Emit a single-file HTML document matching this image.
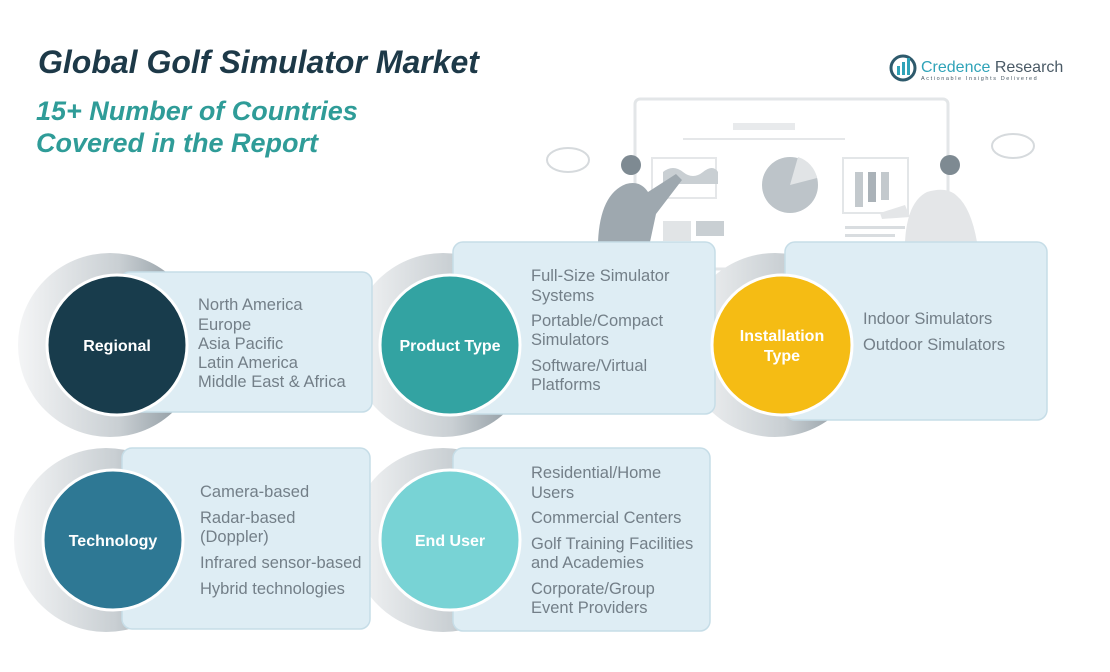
<!DOCTYPE html>
<html><head><meta charset="utf-8"><style>
body{margin:0;background:#fff;}
svg{display:block}
.t{font-family:"Liberation Sans",sans-serif;}
.it{font-family:"Liberation Sans",sans-serif;font-size:16.5px;fill:#737f88;}
.lb{font-family:"Liberation Sans",sans-serif;font-size:16px;font-weight:bold;fill:#fff;}
</style></head><body>
<svg width="1110" height="672" viewBox="0 0 1110 672" xmlns="http://www.w3.org/2000/svg">
<defs>
<linearGradient id="rg" x1="0" y1="0" x2="1" y2="0">
<stop offset="0" stop-color="#f4f5f6"/><stop offset="0.55" stop-color="#c9cfd3"/><stop offset="1" stop-color="#7d8a92"/>
</linearGradient>
</defs>
<g fill="none" stroke="#e3e6e8" stroke-width="3">
<rect x="635" y="99" width="313" height="170" rx="5"/>
</g>
<rect x="733" y="123" width="62" height="7" fill="#e8eaec"/>
<rect x="683" y="138" width="162" height="2" fill="#e5e7e9"/>
<rect x="652" y="158" width="64" height="40" fill="none" stroke="#e5e7e9" stroke-width="2"/>
<path d="M663 172 q10 -8 20 0 t20 0 t15 0 v12 h-55z" fill="#c9cfd3"/>
<circle cx="790" cy="185" r="28" fill="#bdc4c9"/>
<path d="M790 185 L798 157 A28 28 0 0 1 817 178Z" fill="#e1e4e6"/>
<rect x="843" y="158" width="65" height="55" fill="none" stroke="#e3e6e8" stroke-width="2"/>
<rect x="855" y="172" width="8" height="35" fill="#c3c9cd"/><rect x="868" y="172" width="8" height="30" fill="#aab2b8"/><rect x="881" y="172" width="8" height="28" fill="#c3c9cd"/>
<rect x="663" y="221" width="28" height="20" fill="#e1e4e6"/><rect x="696" y="221" width="28" height="15" fill="#c9cfd3"/>
<rect x="845" y="226" width="60" height="3" fill="#d9dde0"/><rect x="845" y="234" width="50" height="3" fill="#d9dde0"/>
<path d="M598 242 q2 -48 28 -58 q14 -4 22 8 l28 -18 l6 6 l-26 34 l-6 28z" fill="#9ea8af"/>
<circle cx="631" cy="165" r="10" fill="#7e8a92"/>
<path d="M905 242 q2 -40 22 -50 q20 -6 30 4 q14 12 20 46z" fill="#e4e6e8"/>
<path d="M905 205 l-25 8 l2 6 l28 -2z" fill="#e4e6e8"/>
<circle cx="950" cy="165" r="10" fill="#7e8a92"/>
<g fill="#fff" stroke="#d6dadd" stroke-width="2">
<ellipse cx="568" cy="160" rx="21" ry="12"/><ellipse cx="1013" cy="146" rx="21" ry="12"/>
</g>
<text x="38" y="73" class="t" font-size="32" font-weight="bold" font-style="italic" fill="#1d3948">Global Golf Simulator Market</text>
<text x="36" y="120" class="t" font-size="27" font-weight="bold" font-style="italic" fill="#2f9c98">15+ Number of Countries</text>
<text x="36" y="152" class="t" font-size="27" font-weight="bold" font-style="italic" fill="#2f9c98">Covered in the Report</text>
<circle cx="903" cy="68" r="12" fill="none" stroke="#2e5a6c" stroke-width="3"/>
<rect x="897" y="66" width="3" height="9" fill="#2fa3b8"/><rect x="902" y="62" width="3" height="13" fill="#2fa3b8"/><rect x="907" y="58" width="3" height="17" fill="#2fa3b8"/>
<text x="921" y="72" class="t" font-size="16" fill="#2fa3b8">Credence <tspan fill="#4a5a66">Research</tspan></text>
<text x="921" y="80" class="t" font-size="5.5" fill="#4a5a66" letter-spacing="1.6">Actionable Insights Delivered</text>

<g fill="url(#rg)">
<circle cx="110" cy="345" r="92"/><circle cx="443" cy="345" r="92"/><circle cx="775" cy="345" r="92"/>
<circle cx="106" cy="540" r="92"/><circle cx="443" cy="540" r="92"/>
</g>
<g fill="#deedf4" stroke="#c6dde7" stroke-width="1.5">
<rect x="120" y="272" width="252" height="140" rx="10"/>
<rect x="453" y="242" width="262" height="172" rx="10"/>
<rect x="785" y="242" width="262" height="178" rx="10"/>
<rect x="122" y="448" width="248" height="181" rx="10"/>
<rect x="453" y="448" width="257" height="183" rx="10"/>
</g>
<g stroke="#fff" stroke-width="3">
<circle cx="117" cy="345" r="70" fill="#183c4c"/>
<circle cx="450" cy="345" r="70" fill="#33a3a2"/>
<circle cx="782" cy="345" r="70" fill="#f5bc14"/>
<circle cx="113" cy="540" r="70" fill="#2e7894"/>
<circle cx="450" cy="540" r="70" fill="#78d3d5"/>
</g>
<text x="117" y="351" class="lb" text-anchor="middle">Regional</text>
<text x="450" y="351" class="lb" text-anchor="middle">Product Type</text>
<text x="782" y="341" class="lb" text-anchor="middle">Installation</text>
<text x="782" y="361" class="lb" text-anchor="middle">Type</text>
<text x="113" y="546" class="lb" text-anchor="middle">Technology</text>
<text x="450" y="546" class="lb" text-anchor="middle">End User</text>

<g class="it">
<text x="198" y="310">North America</text>
<text x="198" y="330">Europe</text>
<text x="198" y="349">Asia Pacific</text>
<text x="198" y="368">Latin America</text>
<text x="198" y="387">Middle East &amp; Africa</text>

<text x="531" y="281">Full-Size Simulator</text>
<text x="531" y="301">Systems</text>
<text x="531" y="326">Portable/Compact</text>
<text x="531" y="345">Simulators</text>
<text x="531" y="371">Software/Virtual</text>
<text x="531" y="390">Platforms</text>

<text x="863" y="324">Indoor Simulators</text>
<text x="863" y="350">Outdoor Simulators</text>

<text x="200" y="497">Camera-based</text>
<text x="200" y="523">Radar-based</text>
<text x="200" y="542">(Doppler)</text>
<text x="200" y="568">Infrared sensor-based</text>
<text x="200" y="594">Hybrid technologies</text>

<text x="531" y="478">Residential/Home</text>
<text x="531" y="498">Users</text>
<text x="531" y="523">Commercial Centers</text>
<text x="531" y="549">Golf Training Facilities</text>
<text x="531" y="568">and Academies</text>
<text x="531" y="594">Corporate/Group</text>
<text x="531" y="613">Event Providers</text>
</g>
</svg>
</body></html>
